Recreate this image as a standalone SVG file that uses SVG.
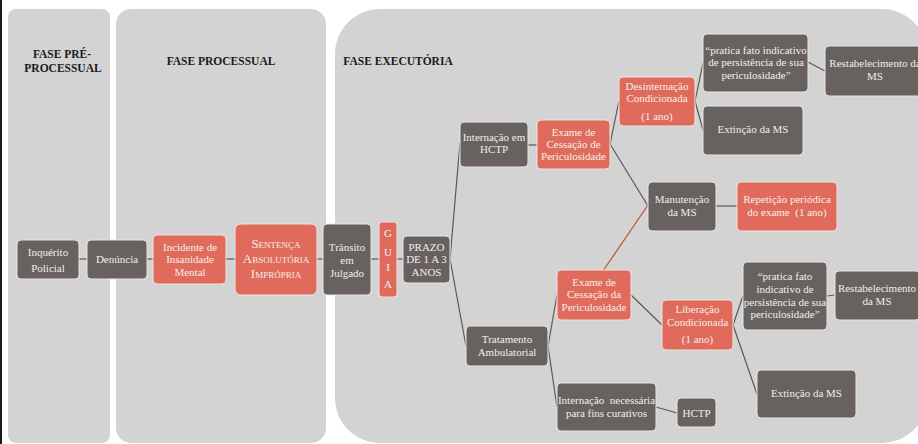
<svg xmlns="http://www.w3.org/2000/svg" width="918" height="444" viewBox="0 0 918 444">
<style>
.panel{fill:#d3d3d3}
.ttl{font-family:"Liberation Serif",serif;font-weight:bold;font-size:11.5px;fill:#1a1a1a;text-anchor:middle}
.g{fill:#67615f;stroke:#ece6dc;stroke-width:1}
.r{fill:#e06b5c;stroke:#f0e4dc;stroke-width:1}
.t{font-family:"Liberation Serif",serif;font-size:11px;fill:#f3efe8;text-anchor:middle}
.sc{font-variant:small-caps;font-size:13px}
.c{stroke:#595959;stroke-width:1.2;fill:none}
.cr{stroke:#c0502f;stroke-width:1.2;fill:none}
</style>
<rect width="918" height="444" fill="#ffffff"/>
<rect x="0" y="0" width="2" height="444" fill="#1a1a1a"/>
<g id="phases">
<rect class="panel" x="8" y="9" width="102" height="434" rx="8"/>
<rect class="panel" x="116" y="9" width="210" height="434" rx="15"/>
<rect class="panel" x="335" y="9" width="592" height="434" rx="45"/>
<text class="ttl" x="62" y="58">FASE PRÉ-</text>
<text class="ttl" x="63" y="72">PROCESSUAL</text>
<text class="ttl" x="221" y="65">FASE PROCESSUAL</text>
<text class="ttl" x="398" y="65">FASE EXECUTÓRIA</text>
</g>
<g id="connectors">
<line class="c" x1="79" y1="259" x2="87" y2="259"/>
<line class="c" x1="147" y1="259" x2="153" y2="259"/>
<line class="c" x1="226" y1="259" x2="235" y2="259"/>
<line class="c" x1="317" y1="259" x2="323" y2="259"/>
<line class="c" x1="371" y1="259" x2="379" y2="259"/>
<line class="c" x1="397" y1="259" x2="403" y2="259"/>
<line class="c" x1="450" y1="259" x2="460" y2="143"/>
<line class="c" x1="450" y1="259" x2="466" y2="346"/>
<line class="c" x1="528" y1="145" x2="537" y2="145"/>
<line class="c" x1="610" y1="144" x2="619" y2="101"/>
<line class="c" x1="610" y1="144" x2="648" y2="206"/>
<line class="c" x1="695" y1="101" x2="703" y2="63"/>
<line class="c" x1="695" y1="101" x2="703" y2="130"/>
<line class="c" x1="808" y1="62" x2="825" y2="71"/>
<line class="c" x1="716" y1="206" x2="737" y2="206"/>
<line class="cr" x1="603" y1="271" x2="648" y2="205"/>
<line class="c" x1="548" y1="346" x2="557" y2="295"/>
<line class="c" x1="548" y1="346" x2="557" y2="407"/>
<line class="c" x1="631" y1="295" x2="662" y2="325"/>
<line class="c" x1="733" y1="325" x2="743" y2="296"/>
<line class="c" x1="733" y1="325" x2="757" y2="394"/>
<line class="c" x1="827" y1="296" x2="835" y2="295"/>
<line class="c" x1="656" y1="407" x2="677" y2="413"/>
</g>
<g id="inquerito"><rect class="g" x="17" y="240" width="62" height="39" rx="4"/>
<text class="t" x="48" y="256">Inquérito</text><text class="t" x="48" y="272">Policial</text></g>
<g id="denuncia"><rect class="g" x="87" y="240" width="60" height="39" rx="4"/>
<text class="t" x="117" y="263">Denúncia</text></g>
<g id="incidente"><rect class="r" x="153" y="235" width="73" height="49" rx="4"/>
<text class="t" x="190" y="251">Incidente de</text><text class="t" x="190" y="263">Insanidade</text><text class="t" x="190" y="276">Mental</text></g>
<g id="sentenca"><rect class="r" x="235" y="224" width="82" height="71" rx="6"/>
<text class="t sc" x="276" y="248">Sentença</text><text class="t sc" x="276" y="263">Absolutória</text><text class="t sc" x="276" y="278">Imprópria</text></g>
<g id="transito"><rect class="g" x="323" y="224" width="48" height="71" rx="4"/>
<text class="t" x="347" y="251">Trânsito</text><text class="t" x="347" y="264">em</text><text class="t" x="347" y="277">Julgado</text></g>
<g id="guia"><rect class="r" x="379" y="222" width="18" height="75" rx="3"/>
<text class="t" x="388" y="237">G</text><text class="t" x="388" y="256">U</text><text class="t" x="388" y="271">I</text><text class="t" x="388" y="288">A</text></g>
<g id="prazo"><rect class="g" x="403" y="236" width="47" height="47" rx="4"/>
<text class="t" x="426.5" y="251">PRAZO</text><text class="t" x="426.5" y="263">DE 1 A 3</text><text class="t" x="426.5" y="276">ANOS</text></g>
<g id="internacao-hctp"><rect class="g" x="460" y="122" width="68" height="45" rx="4"/>
<text class="t" x="494" y="141">Internação em</text><text class="t" x="494" y="153">HCTP</text></g>
<g id="exame-1"><rect class="r" x="537" y="120" width="73" height="49" rx="4"/>
<text class="t" x="573.5" y="136">Exame de</text><text class="t" x="573.5" y="148">Cessação de</text><text class="t" x="573.5" y="160">Periculosidade</text></g>
<g id="desinternacao"><rect class="r" x="619" y="77" width="76" height="49" rx="4"/>
<text class="t" x="657" y="90">Desinternação</text><text class="t" x="657" y="102">Condicionada</text><text class="t" x="657" y="120">(1 ano)</text></g>
<g id="pratica-1"><rect class="g" x="703" y="34" width="105" height="58" rx="4"/>
<text class="t" x="756" y="54">“pratica fato indicativo</text><text class="t" x="756" y="66">de persistência de sua</text><text class="t" x="756" y="79">periculosidade”</text></g>
<g id="restabelecimento-1"><rect class="g" x="825" y="46" width="100" height="50" rx="4"/>
<text class="t" x="875" y="67">Restabelecimento da</text><text class="t" x="875" y="80">MS</text></g>
<g id="extincao-1"><rect class="g" x="703" y="106" width="100" height="49" rx="4"/>
<text class="t" x="753" y="133">Extinção da MS</text></g>
<g id="manutencao"><rect class="g" x="648" y="182" width="68" height="49" rx="4"/>
<text class="t" x="682" y="203">Manutenção</text><text class="t" x="682" y="216">da MS</text></g>
<g id="repeticao"><rect class="r" x="737" y="182" width="100" height="49" rx="4"/>
<text class="t" x="787" y="203">Repetição periódica</text><text class="t" x="787" y="216" xml:space="preserve">do exame  (1 ano)</text></g>
<g id="exame-2"><rect class="r" x="557" y="270" width="74" height="50" rx="4"/>
<text class="t" x="594" y="286">Exame de</text><text class="t" x="594" y="298">Cessação da</text><text class="t" x="594" y="311">Periculosidade</text></g>
<g id="liberacao"><rect class="r" x="662" y="300" width="71" height="50" rx="4"/>
<text class="t" x="697.5" y="313">Liberação</text><text class="t" x="697.5" y="326">Condicionada</text><text class="t" x="697.5" y="343">(1 ano)</text></g>
<g id="pratica-2"><rect class="g" x="743" y="262" width="84" height="68" rx="4"/>
<text class="t" x="785" y="280">“pratica fato</text><text class="t" x="785" y="293">indicativo de</text><text class="t" x="785" y="306">persistência de sua</text><text class="t" x="785" y="318">periculosidade”</text></g>
<g id="restabelecimento-2"><rect class="g" x="835" y="271" width="85" height="49" rx="4"/>
<text class="t" x="877" y="292">Restabelecimento</text><text class="t" x="877" y="305">da MS</text></g>
<g id="tratamento"><rect class="g" x="466" y="326" width="82" height="40" rx="4"/>
<text class="t" x="507" y="343">Tratamento</text><text class="t" x="507" y="356">Ambulatorial</text></g>
<g id="internacao-necessaria"><rect class="g" x="557" y="383" width="99" height="48" rx="4"/>
<text class="t" x="606.5" y="404" xml:space="preserve">Internação  necessária</text><text class="t" x="606.5" y="417">para fins curativos</text></g>
<g id="hctp"><rect class="g" x="677" y="398" width="39" height="29" rx="4"/>
<text class="t" x="696.5" y="417">HCTP</text></g>
<g id="extincao-2"><rect class="g" x="757" y="370" width="99" height="48" rx="4"/>
<text class="t" x="806.5" y="397">Extinção da MS</text></g>
</svg>
